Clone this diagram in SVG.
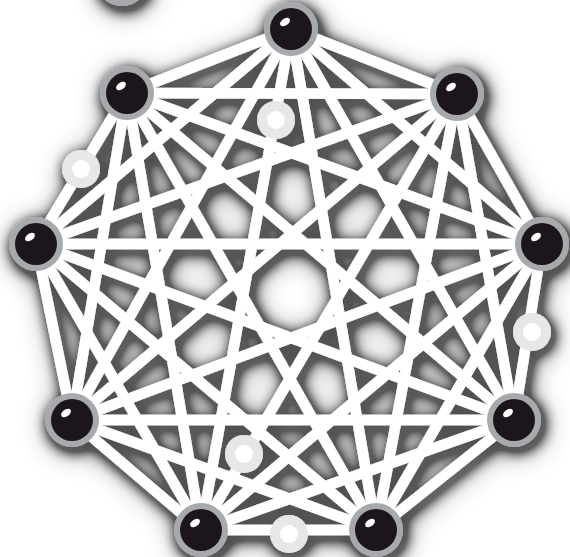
<svg xmlns="http://www.w3.org/2000/svg" xmlns:xlink="http://www.w3.org/1999/xlink" width="570" height="557" viewBox="0 0 570 557">
<defs>
<style>
.e{stroke:#fff;stroke-width:10.5;stroke-linecap:butt}
.ring{fill:#a7a9ac}
.core{fill:#1b191c}
.hl{fill:#fff}
.lring{fill:#e6e7e8}
.lcore{fill:#fff}
</style>
<filter id="ds" x="-20%" y="-20%" width="140%" height="140%">
<feGaussianBlur in="SourceAlpha" stdDeviation="14"/>
<feOffset dx="3" dy="5"/>
<feComponentTransfer result="a1"><feFuncA type="linear" slope="1.6"/></feComponentTransfer>
<feFlood flood-color="#000" flood-opacity="0.34"/>
<feComposite in2="a1" operator="in" result="s1"/>
<feGaussianBlur in="SourceAlpha" stdDeviation="7"/>
<feOffset dx="3" dy="4"/>
<feComponentTransfer result="a2"><feFuncA type="linear" slope="2.6"/></feComponentTransfer>
<feFlood flood-color="#000" flood-opacity="0.52"/>
<feComposite in2="a2" operator="in" result="s2"/>
<feMerge><feMergeNode in="s1"/><feMergeNode in="s2"/><feMergeNode in="SourceGraphic"/></feMerge>
</filter>
</defs>
<rect width="570" height="557" fill="#fff"/>
<g filter="url(#ds)">
<g id="connectors">
<line class="e" x1="291" y1="29" x2="457" y2="94"/>
<line class="e" x1="291" y1="29" x2="542" y2="244"/>
<line class="e" x1="291" y1="29" x2="514" y2="420"/>
<line class="e" x1="291" y1="29" x2="376" y2="530"/>
<line class="e" x1="291" y1="29" x2="201" y2="530"/>
<line class="e" x1="291" y1="29" x2="72" y2="420"/>
<line class="e" x1="291" y1="29" x2="36" y2="244"/>
<line class="e" x1="291" y1="29" x2="127" y2="93"/>
<line class="e" x1="457" y1="94" x2="542" y2="244"/>
<line class="e" x1="457" y1="94" x2="514" y2="420"/>
<line class="e" x1="457" y1="94" x2="376" y2="530"/>
<line class="e" x1="457" y1="94" x2="201" y2="530"/>
<line class="e" x1="457" y1="94" x2="72" y2="420"/>
<line class="e" x1="457" y1="94" x2="36" y2="244"/>
<line class="e" x1="457" y1="94" x2="127" y2="93"/>
<line class="e" x1="542" y1="244" x2="514" y2="420"/>
<line class="e" x1="542" y1="244" x2="376" y2="530"/>
<line class="e" x1="542" y1="244" x2="201" y2="530"/>
<line class="e" x1="542" y1="244" x2="72" y2="420"/>
<line class="e" x1="542" y1="244" x2="36" y2="244"/>
<line class="e" x1="542" y1="244" x2="127" y2="93"/>
<line class="e" x1="514" y1="420" x2="376" y2="530"/>
<line class="e" x1="514" y1="420" x2="201" y2="530"/>
<line class="e" x1="514" y1="420" x2="72" y2="420"/>
<line class="e" x1="514" y1="420" x2="36" y2="244"/>
<line class="e" x1="514" y1="420" x2="127" y2="93"/>
<line class="e" x1="376" y1="530" x2="201" y2="530"/>
<line class="e" x1="376" y1="530" x2="72" y2="420"/>
<line class="e" x1="376" y1="530" x2="36" y2="244"/>
<line class="e" x1="376" y1="530" x2="127" y2="93"/>
<line class="e" x1="201" y1="530" x2="72" y2="420"/>
<line class="e" x1="201" y1="530" x2="36" y2="244"/>
<line class="e" x1="201" y1="530" x2="127" y2="93"/>
<line class="e" x1="72" y1="420" x2="36" y2="244"/>
<line class="e" x1="72" y1="420" x2="127" y2="93"/>
<line class="e" x1="36" y1="244" x2="127" y2="93"/>
</g>
<g id="node-top-partial"><circle class="ring" cx="122" cy="-21" r="27"/></g>
<g id="node-a"><circle class="ring" cx="291" cy="29" r="27"/><circle class="core" cx="291" cy="29" r="21"/><ellipse class="hl" cx="285" cy="22" rx="5.5" ry="3.5" transform="rotate(-35 285 22)"/></g>
<g id="node-b"><circle class="ring" cx="457" cy="94" r="27"/><circle class="core" cx="457" cy="94" r="21"/><ellipse class="hl" cx="451" cy="87" rx="5.5" ry="3.5" transform="rotate(-35 451 87)"/></g>
<g id="node-c"><circle class="ring" cx="542" cy="244" r="27"/><circle class="core" cx="542" cy="244" r="21"/><ellipse class="hl" cx="536" cy="237" rx="5.5" ry="3.5" transform="rotate(-35 536 237)"/></g>
<g id="node-d"><circle class="ring" cx="514" cy="420" r="27"/><circle class="core" cx="514" cy="420" r="21"/><ellipse class="hl" cx="508" cy="413" rx="5.5" ry="3.5" transform="rotate(-35 508 413)"/></g>
<g id="node-e"><circle class="ring" cx="376" cy="530" r="27"/><circle class="core" cx="376" cy="530" r="21"/><ellipse class="hl" cx="370" cy="523" rx="5.5" ry="3.5" transform="rotate(-35 370 523)"/></g>
<g id="node-f"><circle class="ring" cx="201" cy="530" r="27"/><circle class="core" cx="201" cy="530" r="21"/><ellipse class="hl" cx="195" cy="523" rx="5.5" ry="3.5" transform="rotate(-35 195 523)"/></g>
<g id="node-g"><circle class="ring" cx="72" cy="420" r="27"/><circle class="core" cx="72" cy="420" r="21"/><ellipse class="hl" cx="66" cy="413" rx="5.5" ry="3.5" transform="rotate(-35 66 413)"/></g>
<g id="node-h"><circle class="ring" cx="36" cy="244" r="27"/><circle class="core" cx="36" cy="244" r="21"/><ellipse class="hl" cx="30" cy="237" rx="5.5" ry="3.5" transform="rotate(-35 30 237)"/></g>
<g id="node-i"><circle class="ring" cx="127" cy="93" r="27"/><circle class="core" cx="127" cy="93" r="21"/><ellipse class="hl" cx="121" cy="86" rx="5.5" ry="3.5" transform="rotate(-35 121 86)"/></g>
<g id="node-s1"><circle class="lring" cx="81" cy="169" r="19"/><circle class="lcore" cx="81" cy="169" r="9"/></g>
<g id="node-s2"><circle class="lring" cx="276" cy="120" r="19"/><circle class="lcore" cx="276" cy="120" r="9"/></g>
<g id="node-s3"><circle class="lring" cx="532" cy="332" r="19"/><circle class="lcore" cx="532" cy="332" r="9"/></g>
<g id="node-s4"><circle class="lring" cx="244" cy="454" r="19"/><circle class="lcore" cx="244" cy="454" r="9"/></g>
<g id="node-s5"><circle class="lring" cx="289" cy="534" r="19"/><circle class="lcore" cx="289" cy="534" r="9"/></g>
</g>
</svg>
